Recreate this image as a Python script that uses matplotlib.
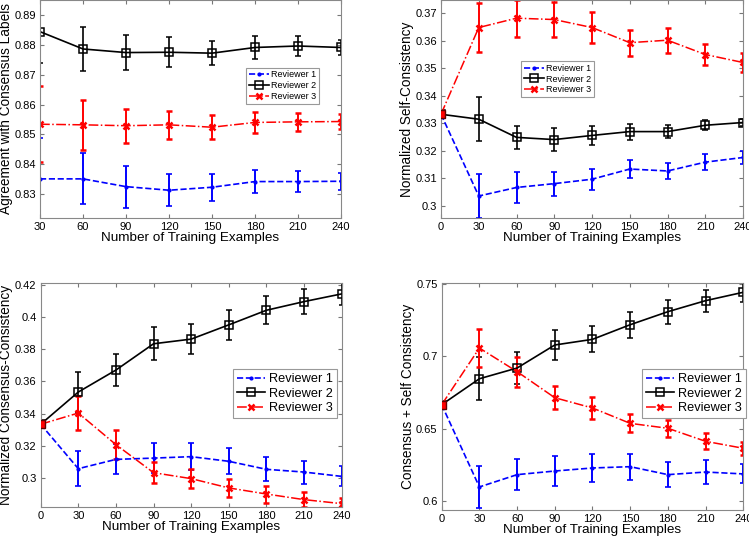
import matplotlib
matplotlib.use("Agg")
import matplotlib.pyplot as plt
from matplotlib.ticker import FormatStrFormatter

plt.rcParams['font.family'] = ['Liberation Sans', 'DejaVu Sans']

x_top = [30, 60, 90, 120, 150, 180, 210, 240]
x_all = [0, 30, 60, 90, 120, 150, 180, 210, 240]

# agreement with consensus labels
agr_r1 = [0.8351, 0.8351, 0.8325, 0.8313, 0.8323, 0.8342, 0.8342, 0.8343]
agr_r1_err = [0.0136, 0.0085, 0.0070, 0.0054, 0.0046, 0.0039, 0.0036, 0.0029]
agr_r2 = [0.8844, 0.8786, 0.8774, 0.8775, 0.8772, 0.8791, 0.8796, 0.8791]
agr_r2_err = [0.0106, 0.0074, 0.0059, 0.0050, 0.0041, 0.0037, 0.0032, 0.0026]
agr_r3 = [0.8534, 0.8532, 0.8529, 0.8532, 0.8524, 0.8540, 0.8542, 0.8543]
agr_r3_err = [0.0128, 0.0083, 0.0057, 0.0046, 0.0040, 0.0034, 0.0030, 0.0026]

# normalized self-consistency
self_r1 = [0.3333, 0.3036, 0.3067, 0.3081, 0.3097, 0.3134, 0.3127, 0.3159, 0.3176]
self_r1_err = [0, 0.0080, 0.0058, 0.0044, 0.0038, 0.0032, 0.0030, 0.0028, 0.0023]
self_r2 = [0.3333, 0.3315, 0.3249, 0.3241, 0.3256, 0.3270, 0.3270, 0.3293, 0.3303]
self_r2_err = [0, 0.0080, 0.0042, 0.0042, 0.0035, 0.0029, 0.0024, 0.0018, 0.0014]
self_r3 = [0.3333, 0.3648, 0.3682, 0.3677, 0.3648, 0.3593, 0.3602, 0.3550, 0.3521]
self_r3_err = [0, 0.0088, 0.0067, 0.0063, 0.0057, 0.0047, 0.0045, 0.0038, 0.0034]

# normalized consensus-consistency
cons_r1 = [0.3333, 0.3056, 0.3114, 0.3122, 0.3131, 0.3102, 0.3052, 0.3035, 0.3008]
cons_r1_err = [0, 0.0110, 0.0094, 0.0093, 0.0085, 0.0080, 0.0074, 0.0072, 0.0062]
cons_r2 = [0.3333, 0.3534, 0.3671, 0.3835, 0.3864, 0.3953, 0.4044, 0.4098, 0.4146]
cons_r2_err = [0, 0.0128, 0.0100, 0.0104, 0.0093, 0.0093, 0.0088, 0.0080, 0.0068]
cons_r3 = [0.3333, 0.3403, 0.3206, 0.3031, 0.2994, 0.2936, 0.2898, 0.2863, 0.2838]
cons_r3_err = [0, 0.0108, 0.0091, 0.0067, 0.0060, 0.0056, 0.0053, 0.0047, 0.0036]

# consensus + self consistency
sum_r1 = [0.6667, 0.6099, 0.6184, 0.6209, 0.6230, 0.6239, 0.6184, 0.6202, 0.6189]
sum_r1_err = [0, 0.0147, 0.0108, 0.0106, 0.0094, 0.0089, 0.0085, 0.0080, 0.0066]
sum_r2 = [0.6667, 0.6846, 0.6920, 0.7079, 0.7118, 0.7219, 0.7309, 0.7385, 0.7443]
sum_r2_err = [0, 0.0150, 0.0110, 0.0105, 0.0090, 0.0090, 0.0084, 0.0076, 0.0068]
sum_r3 = [0.6667, 0.7058, 0.6895, 0.6715, 0.6644, 0.6538, 0.6504, 0.6414, 0.6366]
sum_r3_err = [0, 0.0130, 0.0103, 0.0080, 0.0073, 0.0062, 0.0060, 0.0056, 0.0046]

labels = ["Reviewer 1", "Reviewer 2", "Reviewer 3"]


def panel(ax, x, r1, e1, r2, e2, r3, e3, ylabel, ylim, yticks, xlim, legsize, legloc, start=False):
    c1 = ax.errorbar(x, r1, yerr=e1, color="blue", ls="--", lw=1.2, marker=".", ms=4,
                     capsize=2.5, elinewidth=1.4, capthick=1.2)
    c2 = ax.errorbar(x, r2, yerr=e2, color="black", ls="-", lw=1.2, marker="s", ms=5.5,
                     mfc="none", mew=1.1, capsize=2.5, elinewidth=1.2, capthick=1.1)
    c3 = ax.errorbar(x, r3, yerr=e3, color="red", ls="-.", lw=1.1, marker="x", ms=4.5, mew=1.8,
                     capsize=2.5, elinewidth=1.4, capthick=1.2)
    if start:
        ax.plot(x[0], r3[0], marker="s", ms=5.5, mfc="red", mec="#600000", mew=1, ls="none", zorder=5)
    ax.set_xlim(*xlim)
    ax.set_ylim(*ylim)
    ax.set_xticks(x)
    ax.set_yticks(yticks)
    ax.yaxis.set_major_formatter(FormatStrFormatter('%g'))
    ax.tick_params(direction="in", top=True, right=True, labelsize=8, length=3, color="#777777", pad=3)
    for s in ax.spines.values():
        s.set_color("#888888")
        s.set_linewidth(0.8)
    ax.set_xlabel("Number of Training Examples", fontsize=9.7, labelpad=0)
    ax.set_ylabel(ylabel, fontsize=9.8, labelpad=1)
    handles = [c1.lines[0], c2.lines[0], c3.lines[0]]
    leg = ax.legend(handles, labels, loc="upper left", bbox_to_anchor=legloc, fontsize=legsize,
                    frameon=True, fancybox=False, framealpha=1, edgecolor="#999999", borderpad=0.3,
                    labelspacing=0.2, handlelength=2.2, handletextpad=0.3, borderaxespad=0)
    leg.get_frame().set_linewidth(0.8)


fig = plt.figure(figsize=(7.49, 5.38), dpi=100)
ax1 = fig.add_axes([0.0534, 0.5948, 0.4019, 0.4052])
ax2 = fig.add_axes([0.5888, 0.5942, 0.4032, 0.4058])
ax3 = fig.add_axes([0.0543, 0.0576, 0.4019, 0.4164])
ax4 = fig.add_axes([0.5897, 0.0526, 0.4027, 0.4214])

panel(ax1, x_top, agr_r1, agr_r1_err, agr_r2, agr_r2_err, agr_r3, agr_r3_err,
      "Agreement with Consensus Labels", (0.822, 0.895),
      [0.83, 0.84, 0.85, 0.86, 0.87, 0.88, 0.89], (30, 240), 6.5, (0.685, 0.69))
panel(ax2, x_all, self_r1, self_r1_err, self_r2, self_r2_err, self_r3, self_r3_err,
      "Normalized Self-Consistency", (0.2955, 0.3748),
      [0.30, 0.31, 0.32, 0.33, 0.34, 0.35, 0.36, 0.37], (0, 240), 6.5, (0.265, 0.72), start=True)
panel(ax3, x_all, cons_r1, cons_r1_err, cons_r2, cons_r2_err, cons_r3, cons_r3_err,
      "Normalized Consensus-Consistency", (0.2817, 0.4214),
      [0.30, 0.32, 0.34, 0.36, 0.38, 0.40, 0.42], (0, 240), 9.2, (0.64, 0.615), start=True)
panel(ax4, x_all, sum_r1, sum_r1_err, sum_r2, sum_r2_err, sum_r3, sum_r3_err,
      "Consensus + Self Consistency", (0.5942, 0.7507),
      [0.60, 0.65, 0.70, 0.75], (0, 240), 9.2, (0.665, 0.62), start=True)

fig.savefig("out.png", dpi=100)
